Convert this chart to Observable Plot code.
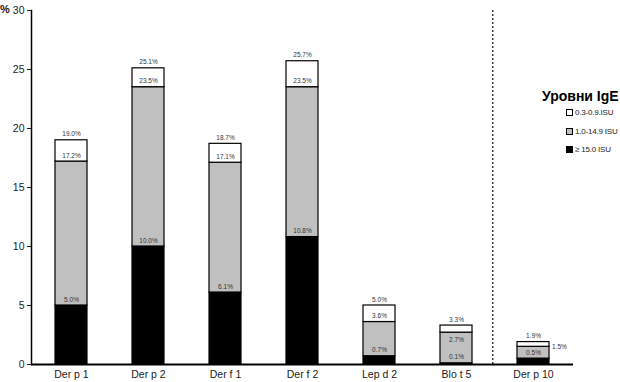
<!DOCTYPE html>
<html><head><meta charset="utf-8">
<script src="https://cdn.jsdelivr.net/npm/d3@7"></script>
<script src="https://cdn.jsdelivr.net/npm/@observablehq/plot@0.6"></script>
<style>
body{margin:0;background:#fff;font-family:"Liberation Sans",Arial,sans-serif;}
#wrap{position:relative;width:620px;height:382px;}
#pct{position:absolute;left:0;top:3px;font-size:11px;font-weight:bold;color:#111;}
#legend{position:absolute;left:541px;top:88px;}
#legend .t{font-size:14px;font-weight:bold;color:#000;margin-left:1px;}
#legend .it{position:absolute;left:25px;font-size:8px;letter-spacing:-0.2px;color:#222;white-space:nowrap;display:flex;align-items:center;}
#legend .sw{width:5px;height:5px;border:1px solid #000;margin-right:2px;display:inline-block;}
</style></head>
<body><div id="wrap"><div id="pct">%</div><div id="legend"><div class="t">Уровни IgE</div></div></div>
<script>
const categories = ["Der p 1","Der p 2","Der f 1","Der f 2","Lep d 2","Blo t 5","Der p 10"];
const high  = [5.0, 10.0, 6.1, 10.8, 0.7, 0.1, 0.5];   // top of ≥ 15.0 ISU (cumulative)
const mid   = [17.2, 23.5, 17.1, 23.5, 3.6, 2.7, 1.5]; // top of 1.0-14.9 ISU (cumulative)
const total = [19.0, 25.1, 18.7, 25.7, 5.0, 3.3, 1.9]; // top of 0.3-0.9 ISU (cumulative)
const levels = ["0.3-0.9.ISU", "1.0-14.9 ISU", "≥ 15.0 ISU"];
const levelColors = ["#ffffff", "#c0c0c0", "#000000"];
const yTicks = [0, 5, 10, 15, 20, 25, 30];

const W = 620, H = 382, mL = 31, mR = 47, mT = 10, mB = 18;
const pad = 0.587;
const step = (W - mL - mR) / categories.length;
const barW = step * (1 - pad);

const segs = categories.flatMap((c, i) => [
  {cat: c, level: levels[2], y1: 0, y2: high[i]},
  {cat: c, level: levels[1], y1: high[i], y2: mid[i]},
  {cat: c, level: levels[0], y1: mid[i], y2: total[i]}
]);
const fmt = v => v.toFixed(1) + "%";
const labAbove = [], labBelow = [], labRight = [];
categories.forEach((c, i) => {
  labAbove.push({cat: c, v: high[i]});
  labAbove.push({cat: c, v: total[i]});
  const gap = total[i] - mid[i];
  if (gap < 0.5) labRight.push({cat: c, v: mid[i]});
  else if (gap < 0.7) labBelow.push({cat: c, v: mid[i]});
  else labAbove.push({cat: c, v: mid[i]});
});
const lab = {x: "cat", y: "v", text: d => fmt(d.v), fontSize: 6.5, fill: "#333"};

const chart = Plot.plot({
  width: W, height: H, marginLeft: mL, marginRight: mR, marginTop: mT, marginBottom: mB,
  style: {fontFamily: "Liberation Sans, Arial, sans-serif", background: "white", color: "#222"},
  x: {domain: categories, paddingInner: pad, paddingOuter: pad / 2, label: null},
  y: {domain: [0, 30], label: null},
  color: {domain: levels, range: levelColors},
  marks: [
    Plot.barY(segs, {x: "cat", y1: "y1", y2: "y2", fill: "level", stroke: "#000", strokeWidth: 1.2}),
    Plot.ruleX([categories[6]], {dx: -step / 2 - 2, stroke: "#333", strokeWidth: 1.4, strokeDasharray: "2,2"}),
    Plot.text(labAbove, {...lab, dy: -6}),
    Plot.text(labBelow, {...lab, dy: 7}),
    Plot.text(labRight, {...lab, dx: barW / 2 + 10}),
    Plot.axisX({tickSize: 0, tickPadding: 6, fontSize: 10.5, fill: "#222"}),
    Plot.axisY({ticks: yTicks, tickSize: 4, tickPadding: 3, fontSize: 10.5, fill: "#222", label: null}),
    Plot.frame({anchor: "left", stroke: "#000", strokeWidth: 1.5}),
    Plot.ruleY([0], {stroke: "#000", strokeWidth: 2})
  ]
});
document.getElementById("wrap").prepend(chart);

const leg = document.getElementById("legend");
const tops = [20, 39, 57];
levels.forEach((l, i) => {
  const d = document.createElement("div");
  d.className = "it";
  d.style.top = tops[i] + "px";
  d.innerHTML = `<span class="sw" style="background:${levelColors[i]}"></span>${l}`;
  leg.appendChild(d);
});
</script></body></html>
